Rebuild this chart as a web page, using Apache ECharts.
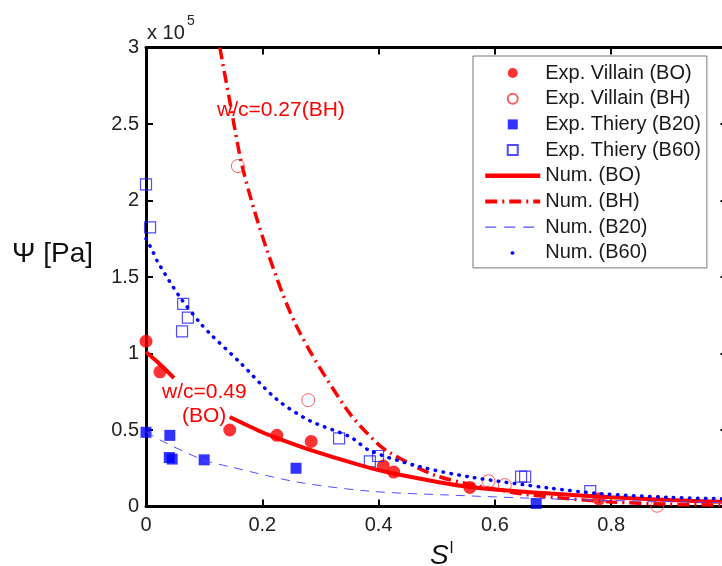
<!DOCTYPE html>
<html><head><meta charset="utf-8">
<script src="https://cdn.jsdelivr.net/npm/echarts@6/dist/echarts.min.js"></script>
<style>html,body{margin:0;padding:0;background:#fff}#c{width:722px;height:566px}</style>
</head><body><div id="c"></div>
<script>
// ---- data (x = S^l, y = Psi in Pa) ----
const villainBO = [[0,108000],[0.024,88000],[0.144,50000],[0.225,46500],[0.284,42500],[0.408,26500],[0.426,22500],[0.557,12500],[0.779,5000]];
const villainBH = [[0.158,222500],[0.279,69500],[0.589,16500],[0.617,14000],[0.879,500]];
const thieryB20 = [[0,48500],[0.041,46500],[0.04,32000],[0.045,31000],[0.1,30500],[0.258,25000],[0.671,2000]];
const thieryB60 = [[0,210500],[0.007,182500],[0.064,132500],[0.072,123500],[0.062,114500],[0.332,44500],[0.385,29500],[0.399,33000],[0.645,19500],[0.652,19500],[0.764,10000]];
const numBO1 = [[0,101000],[0.024,93000],[0.048,84000]];
const numBO2 = [[0.144,58500],[0.2,48500],[0.23,44000],[0.282,37000],[0.368,27000],[0.414,22500],[0.557,12700],[0.695,8500],[0.8,6000],[0.9,4200],[1.0,3000]];
const numBH = [[0.127,300000],[0.144,265000],[0.167,220000],[0.208,167600],[0.26,117000],[0.346,63000],[0.397,41500],[0.42,35000],[0.5,20000],[0.626,9500],[0.7,6000],[0.8,3000],[0.9,1500],[1.0,800]];
const numB20 = [[0,49000],[0.024,43500],[0.098,30500],[0.144,26000],[0.26,16000],[0.385,10000],[0.52,7500],[0.695,5000],[0.85,3500],[1.0,2500]];
const numB60 = [[0,175000],[0.01,168000],[0.02,160000],[0.058,137000],[0.093,120000],[0.11,113000],[0.162,94000],[0.225,70000],[0.282,56000],[0.351,45500],[0.385,36500],[0.471,26000],[0.557,19300],[0.695,12000],[0.78,8500],[0.9,6000],[1.0,5000]];
const xTicks = {min:0, max:1, interval:0.2};
const yTicks = {min:0, max:300000, interval:50000};
const legendNames = ['Exp. Villain (BO)','Exp. Villain (BH)','Exp. Thiery (B20)','Exp. Thiery (B60)','Num. (BO)','Num. (BH)','Num. (B20)','Num. (B60)'];

const FONT = '"Liberation Sans", Arial, sans-serif';
const SQUARE = 'path://M0,0L10,0L10,10L0,10Z';
const chart = echarts.init(document.getElementById('c'), null, {renderer:'canvas'});
const axisLineStyle = {show:true, onZero:false, lineStyle:{color:'#000', width:3}};
const tick = {show:true, inside:true, length:7, lineStyle:{color:'#000', width:2}};
const lbl = {fontSize:20, color:'#222', fontFamily:FONT};
const hideSym = {opacity:0};

chart.setOption({
  animation:false,
  backgroundColor:'#fff',
  grid:{left:146, top:47.5, width:581.5, height:459, containLabel:false, outerBoundsMode:'none'},
  xAxis:[
    {type:'value', position:'bottom', ...xTicks, axisLine:axisLineStyle, axisTick:tick, splitLine:{show:false},
     axisLabel:{...lbl, margin:9, formatter:v=>String(+v.toFixed(1))}},
    {type:'value', position:'top', ...xTicks, axisLine:axisLineStyle, axisTick:tick, splitLine:{show:false}, axisLabel:{show:false}}
  ],
  yAxis:[
    {type:'value', position:'left', ...yTicks, axisLine:axisLineStyle, axisTick:tick, splitLine:{show:false},
     axisLabel:{...lbl, margin:7, formatter:v=>String(+(v/1e5).toFixed(1))}},
    {type:'value', position:'right', ...yTicks, axisLine:axisLineStyle, axisTick:tick, splitLine:{show:false}, axisLabel:{show:false}}
  ],
  legend:{
    orient:'vertical', left:473, top:56, align:'left',
    padding:[7,6,5,10], itemGap:5.7, itemWidth:55, itemHeight:10, symbolKeepAspect:true,
    backgroundColor:'#fff', borderColor:'#777', borderWidth:1, borderRadius:0,
    textStyle:{fontSize:20, color:'#1a1a1a', fontFamily:FONT},
    data:[
      'Exp. Villain (BO)','Exp. Villain (BH)','Exp. Thiery (B20)','Exp. Thiery (B60)',
      {name:'Num. (BO)', itemStyle:hideSym, lineStyle:{width:4.5, color:'#ff0000'}},
      {name:'Num. (BH)', itemStyle:hideSym, lineStyle:{width:4, color:'#ff0000', type:[12,5,2,5]}},
      {name:'Num. (B20)', itemStyle:hideSym, lineStyle:{width:1.2, color:'#5050ff', type:[11,8]}},
      {name:'Num. (B60)', itemStyle:hideSym, lineStyle:{type:[0.5,60], dashOffset:33.5, cap:'round', width:3.5, color:'#0000ff'}}
    ],
    selectedMode:false
  },
  graphic:[
    {type:'text', style:{x:147, y:33, text:'x 10', fill:'#222', font:'20px '+FONT, textVerticalAlign:'middle'}},
    {type:'text', style:{x:187, y:21, text:'5', fill:'#222', font:'14px '+FONT, textVerticalAlign:'middle'}},
    {type:'text', style:{x:12, y:254, text:'Ψ [Pa]', fill:'#111', font:'28px '+FONT, textVerticalAlign:'middle'}},
    {type:'text', style:{x:430, y:541, text:'{s|S}{l|l}', rich:{s:{font:'italic 28px '+FONT, fill:'#111'}, l:{font:'16px '+FONT, fill:'#111', padding:[0,0,14,1]}}}},
    {type:'text', style:{x:217, y:110, text:'w/c=0.27(BH)', fill:'#ff0000', font:'21px '+FONT, textVerticalAlign:'middle'}},
    {type:'text', style:{x:162, y:392, text:'w/c=0.49', fill:'#ff0000', font:'21px '+FONT, textVerticalAlign:'middle'}},
    {type:'text', style:{x:182, y:416, text:'(BO)', fill:'#ff0000', font:'21px '+FONT, textVerticalAlign:'middle'}}
  ],
  series:[
    {name:legendNames[0], type:'scatter', data:villainBO, symbol:'circle', symbolSize:13, itemStyle:{color:'#ff0000'}},
    {name:legendNames[1], type:'scatter', data:villainBH, symbol:'circle', symbolSize:13, itemStyle:{color:'rgba(255,255,255,0)', borderColor:'#ff3333', borderWidth:1}},
    {name:legendNames[2], type:'scatter', data:thieryB20, symbol:SQUARE, symbolSize:11, symbolKeepAspect:true, itemStyle:{color:'#0000ff'}},
    {name:legendNames[3], type:'scatter', data:thieryB60, symbol:SQUARE, symbolSize:11, symbolKeepAspect:true, itemStyle:{color:'rgba(255,255,255,0)', borderColor:'#2020ff', borderWidth:1.2}},
    {name:legendNames[4], type:'line', data:numBO1, smooth:0.3, symbol:'none', lineStyle:{color:'#ff0000', width:4}, itemStyle:{color:'#ff0000'}},
    {name:legendNames[4], type:'line', data:numBO2, smooth:0.3, symbol:'none', lineStyle:{color:'#ff0000', width:4}, itemStyle:{color:'#ff0000'}},
    {name:legendNames[5], type:'line', data:numBH, smooth:0.3, symbol:'none', lineStyle:{color:'#ff0000', width:3.5, type:[12,5,2,5]}, itemStyle:{color:'#ff0000'}},
    {name:legendNames[6], type:'line', data:numB20, smooth:0.3, symbol:'none', lineStyle:{color:'#5050ff', width:1, type:[9,7]}, itemStyle:{color:'#5050ff'}},
    {name:legendNames[7], type:'line', data:numB60, smooth:0.3, symbol:'none', lineStyle:{color:'#0000ff', width:3.5, type:[0.5,7.5], cap:'round'}, itemStyle:{color:'#0000ff'}}
  ]
});
</script>
</body></html>
